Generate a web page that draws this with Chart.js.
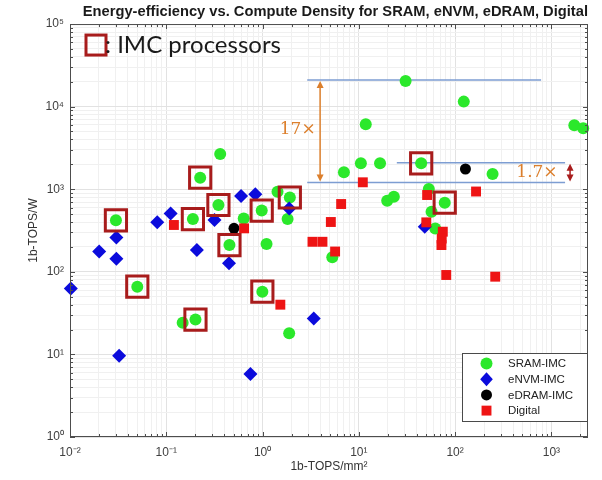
<!DOCTYPE html>
<html lang="en">
<head>
<meta charset="UTF-8">
<title>Energy-efficiency vs. Compute Density</title>
<script src="https://cdn.jsdelivr.net/npm/chart.js"></script>
<style>
  html, body { margin: 0; padding: 0; background: #fff; }
  #wrap { width: 602px; height: 480px; position: relative; }
</style>
</head>
<body>
<div id="wrap"><canvas id="chart"></canvas></div>
<script>
// values (both axes logarithmic)
const sramDensity    = [0.030, 0.225, 0.189, 0.050, 0.201, 0.148, 0.363, 0.348, 0.637, 0.453, 0.98, 1.43, 1.92, 1.82, 1.10, 0.995, 1.89, 5.3, 7.0, 11.8, 10.5, 16.6, 30.6, 123, 44.4, 19.7, 23.1, 53.3, 78, 56.9, 62.2, 245, 1730, 2140];
const sramEfficiency = [420, 1380, 435, 66, 26.4, 24.2, 2670, 644, 442, 211, 552, 933, 794, 435, 217, 57.4, 18.0, 150, 1600, 6100, 2060, 2060, 20400, 11500, 2060, 726, 811, 1005, 687, 534, 334, 1528, 5940, 5460];

const envmDensity    = [0.0102, 0.0201, 0.0303, 0.0303, 0.0324, 0.0806, 0.111, 0.208, 0.317, 0.598, 0.841, 0.448, 1.89, 3.40, 0.748, 48.4];
const envmEfficiency = [63, 176, 260, 144, 9.6, 397, 508, 184, 424, 827, 867, 127, 584, 27.2, 5.8, 352];

const edramDensity    = [0.505, 128];
const edramEfficiency = [336, 1757];

const digitalDensity    = [0.120, 0.643, 1.53, 3.30, 4.19, 5.12, 5.67, 6.55, 11.0, 51.2, 50.2, 74.5, 72.6, 72.1, 80.9, 165, 261];
const digitalEfficiency = [369, 336, 40, 231, 231, 401, 176, 662, 1213, 851, 397, 306, 253, 211, 91.5, 938, 87.3];

// chips that are boxed as IMC processors
const imcDensity    = [0.030, 0.225, 0.189, 0.050, 0.201, 0.348, 0.453, 0.98, 1.92, 0.995, 44.4, 78];
const imcEfficiency = [420, 1380, 435, 66, 26.4, 644, 211, 552, 794, 57.4, 2060, 687];

const xMajorTicks = [0.01, 0.1, 1, 10, 100, 1000];
const yMajorTicks = [1, 10, 100, 1000, 10000, 100000];
const xLimits = [0.01, 2400];
const yLimits = [1, 100000];

// horizontal guide lines (from, to, level) and the two ratio arrows
const guideFrom  = [2.91, 2.91, 24.8];
const guideTo    = [782, 1387, 1387];
const guideLevel = [21000, 1205, 2094];
const ratioLabels = ['17×', '1.7×'];
const ratioArrowX = [3.96, 1563];
const ratioArrowTop = [21000, 2094];
const ratioArrowBottom = [1205, 1205];
const ratioLabelX = [2.32, 708];
const ratioLabelY = [5210, 1570];

const GREEN = '#2be82b';
const BLUE = '#0b0bdc';
const RED = '#ee1414';
const BOX_RED = '#a81c1c';
const GUIDE = '#7d9dd2';
const ORANGE = '#dc7f2c';
const FONT = '"Liberation Sans", Arial, sans-serif';

const SUP = {'-': '⁻', '0': '⁰', '1': '¹', '2': '²', '3': '³', '4': '⁴', '5': '⁵', '6': '⁶', '7': '⁷', '8': '⁸', '9': '⁹'};
function powLabel(v) {
    const e = Math.round(Math.log10(v));
    return '10' + String(e).split('').map(c => SUP[c]).join('');
}
function isPow10(v) {
    const l = Math.log10(v);
    return Math.abs(l - Math.round(l)) < 1e-9;
}
function logTicks(majors, max) {
    const out = [];
    majors.forEach(m => {
        for (let k = 1; k <= 9; k++) {
            const v = m * k;
            if (v <= max * 1.0001) out.push({value: v, major: k === 1});
        }
    });
    return out;
}
const pts = (xs, ys) => xs.map((x, i) => ({x: x, y: ys[i]}));
const gridColor = c => (c.tick && c.tick.major) ? '#e2e2e2' : '#f0f0f0';

function arrowHead(ctx, x, y, dir, len, half) {
    ctx.beginPath();
    ctx.moveTo(x, y);
    ctx.lineTo(x - half, y - dir * len);
    ctx.lineTo(x + half, y - dir * len);
    ctx.closePath();
    ctx.fill();
}

const decor = {
    id: 'decor',
    beforeDatasetsDraw(chart) {
        const {ctx, scales: {x, y}} = chart;
        ctx.save();
        ctx.strokeStyle = GUIDE;
        ctx.lineWidth = 1.5;
        guideLevel.forEach((lv, i) => {
            const py = y.getPixelForValue(lv);
            ctx.beginPath();
            ctx.moveTo(x.getPixelForValue(guideFrom[i]), py);
            ctx.lineTo(x.getPixelForValue(guideTo[i]), py);
            ctx.stroke();
        });

        const arrowColors = [ORANGE, BOX_RED];
        ratioArrowX.forEach((ax, i) => {
            const px = x.getPixelForValue(ax);
            const top = y.getPixelForValue(ratioArrowTop[i]) + 1;
            const bot = y.getPixelForValue(ratioArrowBottom[i]) - 1;
            ctx.strokeStyle = arrowColors[i];
            ctx.fillStyle = arrowColors[i];
            ctx.lineWidth = 1.5;
            ctx.beginPath();
            ctx.moveTo(px, top + 5);
            ctx.lineTo(px, bot - 5);
            ctx.stroke();
            arrowHead(ctx, px, top, -1, 7, 3.5);
            arrowHead(ctx, px, bot, 1, 7, 3.5);
        });

        ctx.fillStyle = ORANGE;
        ctx.font = '17px "DejaVu Serif", serif';
        ctx.textAlign = 'center';
        ctx.textBaseline = 'middle';
        ratioLabels.forEach((t, i) => {
            ctx.fillText(t, x.getPixelForValue(ratioLabelX[i]), y.getPixelForValue(ratioLabelY[i]));
        });
        ctx.restore();
    },
    afterDraw(chart) {
        const {ctx, chartArea: a, scales: {x, y}} = chart;
        ctx.save();
        // axes box and inward tick marks
        ctx.strokeStyle = '#4d4d4d';
        ctx.lineWidth = 1;
        ctx.strokeRect(a.left + 0.5, a.top + 0.5, a.right - a.left - 1, a.bottom - a.top - 1);
        ctx.beginPath();
        x.ticks.forEach(t => {
            const px = Math.round(x.getPixelForValue(t.value)) + 0.5;
            const len = t.major ? 5 : 3;
            ctx.moveTo(px, a.bottom); ctx.lineTo(px, a.bottom - len);
            ctx.moveTo(px, a.top); ctx.lineTo(px, a.top + len);
        });
        y.ticks.forEach(t => {
            const py = Math.round(y.getPixelForValue(t.value)) + 0.5;
            const len = t.major ? 5 : 3;
            ctx.moveTo(a.left, py); ctx.lineTo(a.left + len, py);
            ctx.moveTo(a.right, py); ctx.lineTo(a.right - len, py);
        });
        ctx.stroke();

        // legend box, bottom right
        const series = chart.data.datasets.filter(d => d.inLegend);
        const lw = 125, lh = 68;
        const lx = a.right - lw - 1, ly = a.bottom - lh - 16;
        ctx.fillStyle = '#fff';
        ctx.fillRect(lx, ly, lw, lh);
        ctx.strokeStyle = '#4a4a4a';
        ctx.strokeRect(lx + 0.5, ly + 0.5, lw, lh);
        ctx.font = '11.5px ' + FONT;
        ctx.textBaseline = 'middle';
        ctx.textAlign = 'left';
        series.forEach((d, i) => {
            const cy = ly + 10.5 + i * 15.7;
            const cx = lx + 24.5;
            const r = d.pointRadius;
            ctx.fillStyle = d.pointBackgroundColor;
            ctx.beginPath();
            if (d.pointStyle === 'circle') {
                ctx.arc(cx, cy, r, 0, Math.PI * 2);
            } else if (d.pointStyle === 'rectRot') {
                ctx.moveTo(cx, cy - r); ctx.lineTo(cx + r * 0.9, cy);
                ctx.lineTo(cx, cy + r); ctx.lineTo(cx - r * 0.9, cy);
                ctx.closePath();
            } else {
                const s = r * Math.SQRT1_2;
                ctx.rect(cx - s, cy - s, 2 * s, 2 * s);
            }
            ctx.fill();
            ctx.fillStyle = '#222';
            ctx.fillText(d.label, lx + 46, cy + 0.5);
        });

        // key for the boxed markers, top left
        ctx.strokeStyle = BOX_RED;
        ctx.lineWidth = 3;
        ctx.strokeRect(a.left + 16, a.top + 11, 20, 20);
        ctx.fillStyle = '#1a1a1a';
        ctx.font = '24px Lato, "Open Sans", sans-serif';
        ctx.textBaseline = 'middle';
        ctx.fillText(': IMC processors', a.left + 35, a.top + 21);
        ctx.restore();
    }
};

new Chart(document.getElementById('chart'), {
    type: 'scatter',
    data: {
        datasets: [
            {
                label: 'IMC processors', data: pts(imcDensity, imcEfficiency),
                pointStyle: 'rect', pointRadius: 15, pointBorderWidth: 3,
                pointBackgroundColor: 'rgba(0,0,0,0)', pointBorderColor: BOX_RED,
                order: 0, clip: false, inLegend: false
            },
            {
                label: 'SRAM-IMC', data: pts(sramDensity, sramEfficiency),
                pointStyle: 'circle', pointRadius: 6, pointBorderWidth: 0,
                pointBackgroundColor: GREEN, order: 4, clip: false, inLegend: true
            },
            {
                label: 'eNVM-IMC', data: pts(envmDensity, envmEfficiency),
                pointStyle: 'rectRot', pointRadius: 7, pointBorderWidth: 0,
                pointBackgroundColor: BLUE, order: 3, clip: false, inLegend: true
            },
            {
                label: 'eDRAM-IMC', data: pts(edramDensity, edramEfficiency),
                pointStyle: 'circle', pointRadius: 5.5, pointBorderWidth: 0,
                pointBackgroundColor: '#000', order: 2, clip: false, inLegend: true
            },
            {
                label: 'Digital', data: pts(digitalDensity, digitalEfficiency),
                pointStyle: 'rect', pointRadius: 7, pointBorderWidth: 0,
                pointBackgroundColor: RED, order: 1, clip: false, inLegend: true
            }
        ]
    },
    options: {
        responsive: true,
        maintainAspectRatio: false,
        animation: false,
        events: [],
        layout: {autoPadding: false, padding: {top: 0, right: 14, bottom: 0, left: 0}},
        scales: {
            x: {
                type: 'logarithmic',
                min: xLimits[0], max: xLimits[1],
                afterBuildTicks: s => { s.ticks = logTicks(xMajorTicks, xLimits[1]); },
                afterFit: s => { s.height = 43; s.paddingRight = 0; },
                border: {display: false},
                grid: {color: gridColor, drawTicks: false},
                ticks: {
                    autoSkip: false, maxRotation: 0, padding: 8,
                    color: '#404040', font: {family: FONT, size: 12},
                    callback: v => isPow10(v) ? powLabel(v) : ''
                },
                title: {
                    display: true, text: '1b-TOPS/mm²', color: '#333',
                    font: {family: FONT, size: 12}, padding: {top: 0, bottom: 6}
                }
            },
            y: {
                type: 'logarithmic',
                min: yLimits[0], max: yLimits[1],
                afterBuildTicks: s => { s.ticks = logTicks(yMajorTicks, yLimits[1]); },
                afterFit: s => { s.width = 70; },
                border: {display: false},
                grid: {color: gridColor, drawTicks: false},
                ticks: {
                    autoSkip: false, padding: 6,
                    color: '#404040', font: {family: FONT, size: 12},
                    callback: v => isPow10(v) ? powLabel(v) : ''
                },
                title: {
                    display: true, text: '1b-TOPS/W', color: '#333',
                    font: {family: FONT, size: 12}, padding: {top: 26, bottom: 0}
                }
            }
        },
        plugins: {
            legend: {display: false},
            tooltip: {enabled: false},
            title: {
                display: true, align: 'end',
                text: 'Energy-efficiency vs. Compute Density for SRAM, eNVM, eDRAM, Digital',
                color: '#1a1a1a', font: {family: FONT, size: 14.7, weight: 'bold'},
                padding: {top: 3, bottom: 3.4}
            }
        }
    },
    plugins: [decor]
});
</script>
</body>
</html>
